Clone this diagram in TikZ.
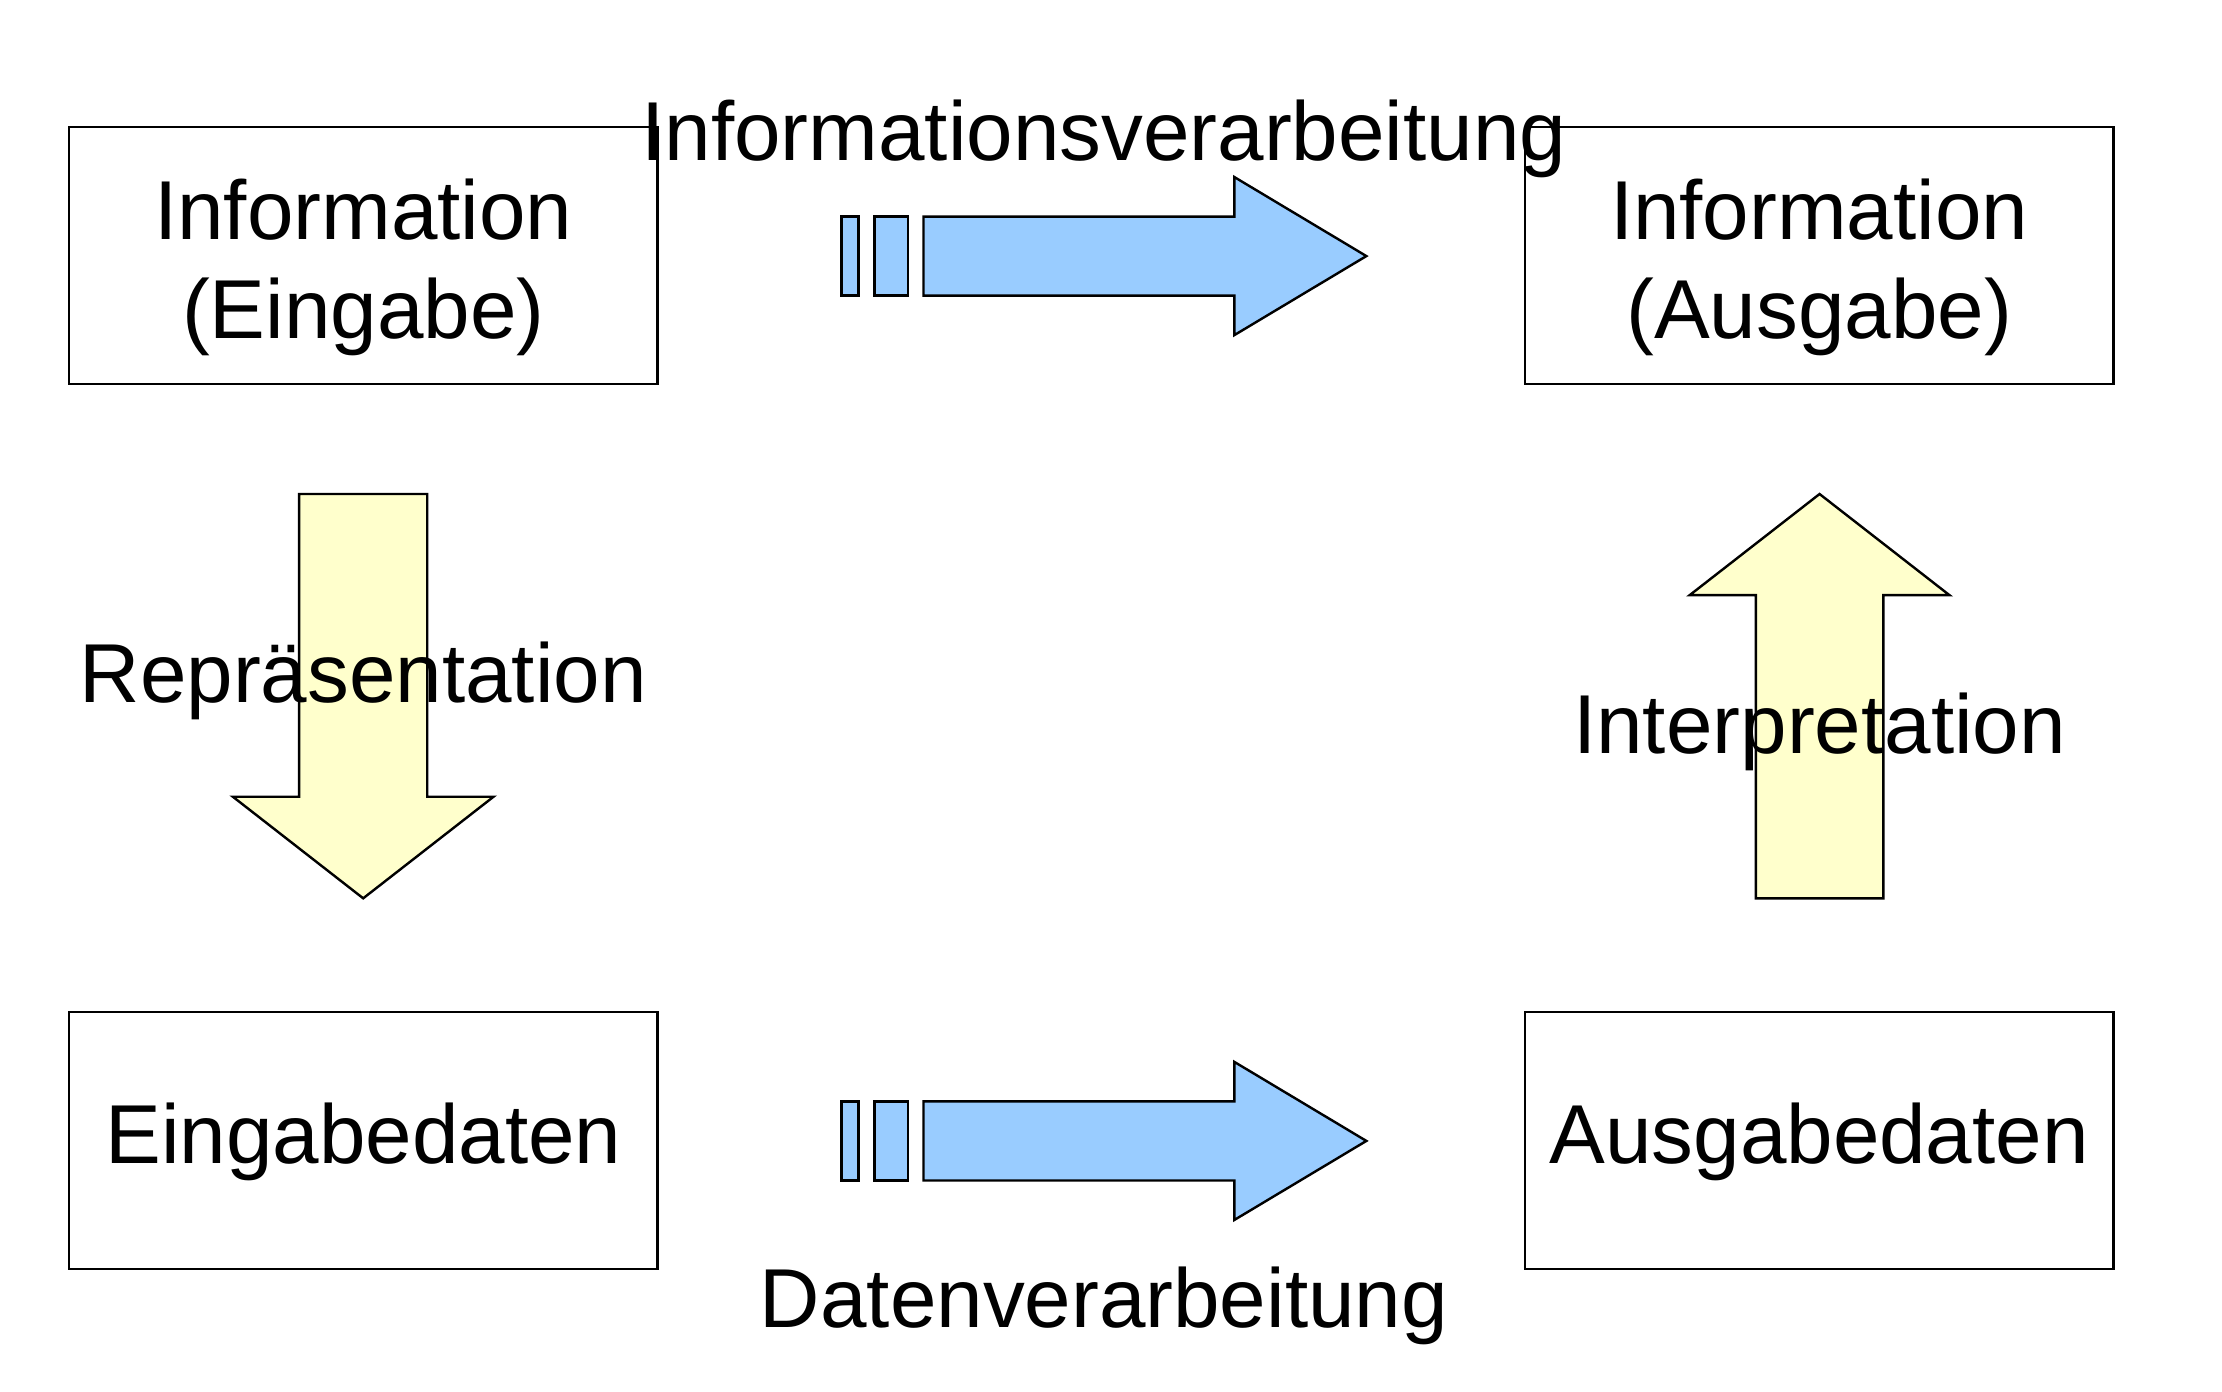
\documentclass[tikz,border=0pt]{standalone}
\usepackage{fontspec}
\setmainfont{Liberation Sans}
\definecolor{arrowblue}{HTML}{99CCFF}
\definecolor{arrowyellow}{HTML}{FFFFCC}
\begin{document}
\begin{tikzpicture}[x=0.5pt,y=-0.5pt,
  box/.style={draw=black, line width=0.85pt, minimum width=207.7pt, minimum height=90.6pt, inner sep=0pt},
  lbl/.style={font=\fontsize{29.5}{35}\selectfont, inner sep=0pt, anchor=base},
  bluearrow/.style={draw=black, line width=0.85pt, fill=arrowblue, line join=miter},
  yellowarrow/.style={draw=black, line width=0.85pt, fill=arrowyellow, line join=miter}]
\useasboundingbox (0,0) rectangle (1568,982);
% boxes
\node[box] (infoin) at (256.4,180.4) {};
\node[box] (infoout) at (1283.7,180.4) {};
\node[box] (datin) at (256.4,804.8) {};
\node[box] (datout) at (1283.7,804.8) {};
% top blue arrow
\draw[bluearrow] (593.8,152.8) rectangle (605.9,208.6);
\draw[bluearrow] (617.2,152.8) rectangle (640.6,208.6);
\draw[bluearrow] (651.7,152.8) -- (871,152.8) -- (871,124.9) -- (964.2,180.7) -- (871,236.5) -- (871,208.6) -- (651.7,208.6) -- cycle;
% bottom blue arrow
\draw[bluearrow] (593.8,777.2) rectangle (605.9,833.0);
\draw[bluearrow] (617.2,777.2) rectangle (640.6,833.0);
\draw[bluearrow] (651.7,777.2) -- (871,777.2) -- (871,749.3) -- (964.2,805.1) -- (871,860.9) -- (871,833.0) -- (651.7,833.0) -- cycle;
% down yellow arrow
\draw[yellowarrow] (211.1,348.6) -- (301.5,348.6) -- (301.5,562.2) -- (348.3,562.2) -- (256.3,633.9) -- (164.3,562.2) -- (211.1,562.2) -- cycle;
% up yellow arrow
\draw[yellowarrow] (1239,633.9) -- (1329,633.9) -- (1329,420) -- (1375.7,420) -- (1284,348.6) -- (1192.3,420) -- (1239,420) -- cycle;
% texts
\node[lbl] (t1) at (779,113.6) {Informationsverarbeitung};
\node[lbl] (t2) at (256.3,495.6) {Repräsentation};
\node[lbl] (t3) at (1284,531.6) {Interpretation};
\node[lbl] (t4) at (779,936.6) {Datenverarbeitung};
\node[lbl] (ie1) at (256.4,169) {Information};
\node[lbl] (ie2) at (256.4,238.7) {(Eingabe)};
\node[lbl] (ia1) at (1283.7,169) {Information};
\node[lbl] (ia2) at (1283.7,238.7) {(Ausgabe)};
\node[lbl] (ed) at (256.4,821) {Eingabedaten};
\node[lbl] (ad) at (1283.7,821) {Ausgabedaten};
\end{tikzpicture}
\end{document}
